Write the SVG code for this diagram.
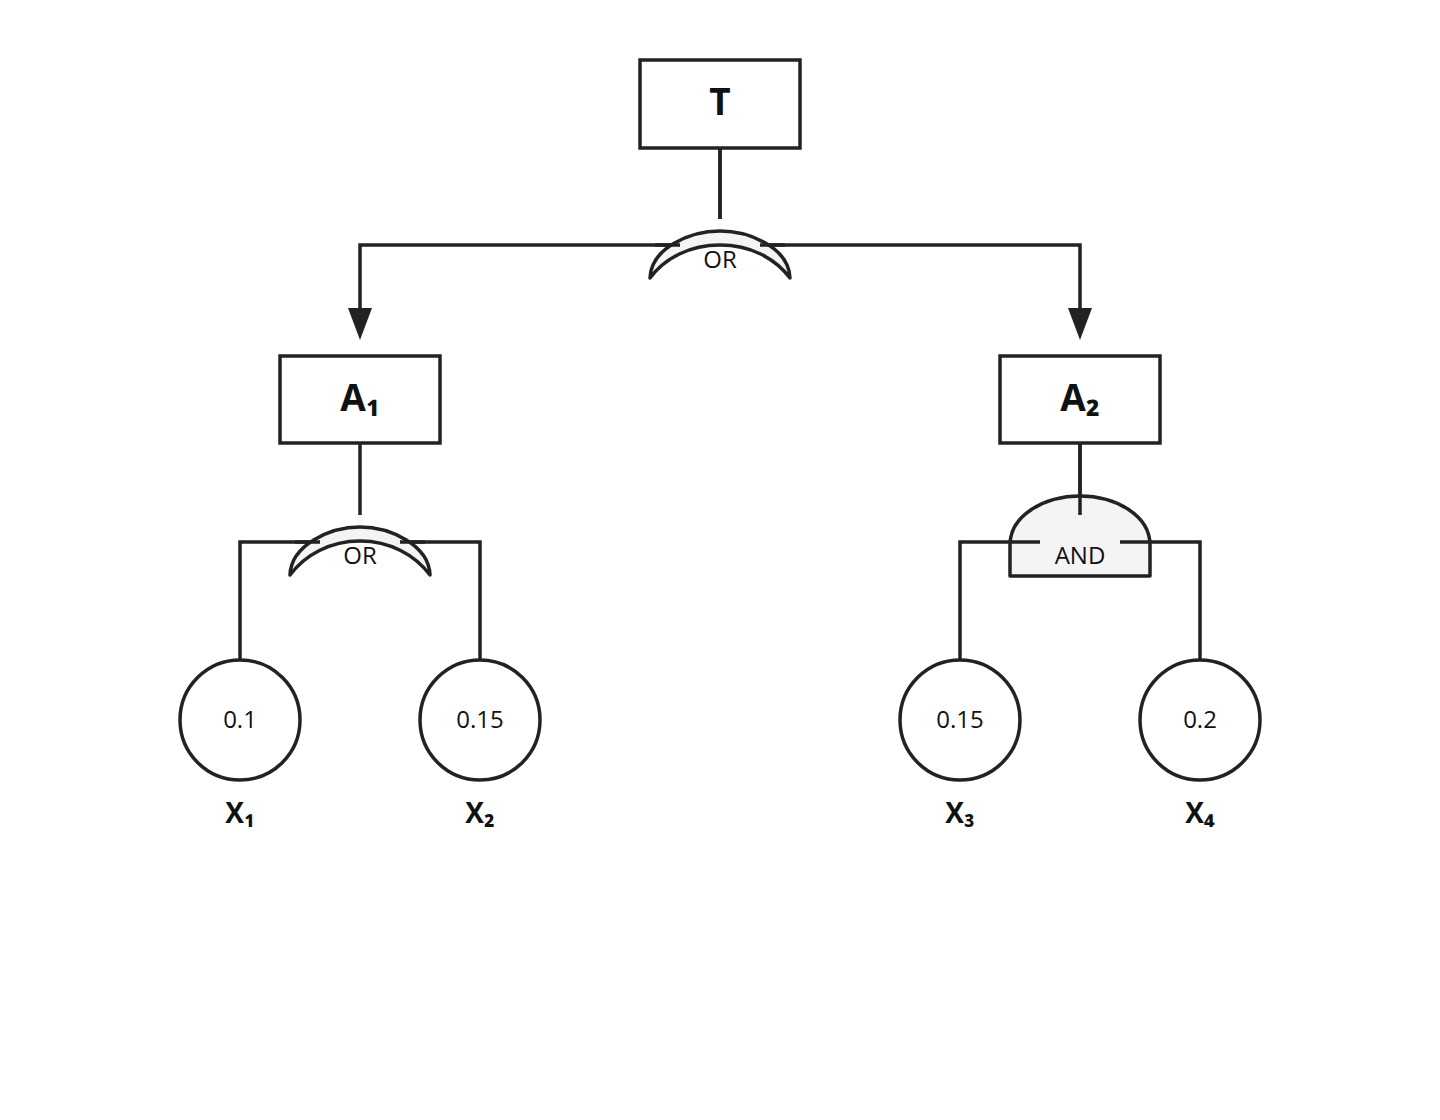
<svg xmlns="http://www.w3.org/2000/svg" width="1440" height="1120" viewBox="0 0 1440 1120">
<defs>
<style>
.box{fill:#fff;stroke:#222;stroke-width:3.5}
.ln{fill:none;stroke:#222;stroke-width:3.5}
.gate{fill:#f4f4f4;stroke:#222;stroke-width:3.5;stroke-linejoin:round}
.ev{fill:#fff;stroke:#222;stroke-width:3.5}
.big{font-family:"Open Sans","Liberation Sans",sans-serif;font-weight:bold;font-size:37px;fill:#111;text-anchor:middle}
.lbl{font-family:"Open Sans","Liberation Sans",sans-serif;font-weight:bold;font-size:28px;fill:#111;text-anchor:middle}
.g{font-family:"Open Sans","Liberation Sans",sans-serif;font-size:24px;fill:#111;text-anchor:middle}
.num{font-family:"Open Sans","Liberation Sans",sans-serif;font-size:24px;fill:#111;text-anchor:middle}
</style>
</defs>
<rect width="1440" height="1120" fill="#fff"/>
<g id="connectors">
<line class="ln" x1="720" y1="148" x2="720" y2="219"/>
<polyline class="ln" points="680,245 360,245 360,308"/>
<path d="M348,308 L372,308 L360,340 Z" fill="#222"/>
<polyline class="ln" points="760,245 1080,245 1080,308"/>
<path d="M1068,308 L1092,308 L1080,340 Z" fill="#222"/>
<line class="ln" x1="360" y1="443" x2="360" y2="515"/>
<polyline class="ln" points="320,542 240,542 240,660"/>
<polyline class="ln" points="400,542 480,542 480,660"/>
<line class="ln" x1="1080" y1="443" x2="1080" y2="515"/>
<polyline class="ln" points="1040,542 960,542 960,660"/>
<polyline class="ln" points="1120,542 1200,542 1200,660"/>
</g>
<g id="T">
<rect class="box" x="640" y="60" width="160" height="88"/>
<text class="big" x="720" y="115">T</text>
</g>
<g id="gate-or-top">
<path class="gate" d="M650,278 C651,248 690,231 720,231 C750,231 789,248 790,278 C775,258 750,245 720,245 C690,245 665,258 650,278 Z"/>
<line class="ln" x1="720" y1="148" x2="720" y2="219"/>
<line class="ln" x1="655" y1="245" x2="680" y2="245"/>
<line class="ln" x1="760" y1="245" x2="785" y2="245"/>
<text class="g" x="720" y="268">OR</text>
</g>
<g id="A1">
<rect class="box" x="280" y="356" width="160" height="87"/>
<text class="big" x="360" y="411">A₁</text>
</g>
<g id="A2">
<rect class="box" x="1000" y="356" width="160" height="87"/>
<text class="big" x="1080" y="411">A₂</text>
</g>
<g id="gate-or-a1">
<path class="gate" d="M290,575 C291,545 330,527 360,527 C390,527 429,545 430,575 C415,555 390,541 360,541 C330,541 305,555 290,575 Z"/>
<line class="ln" x1="295" y1="542" x2="320" y2="542"/>
<line class="ln" x1="400" y1="542" x2="425" y2="542"/>
<text class="g" x="360" y="564">OR</text>
</g>
<g id="gate-and-a2">
<path class="gate" d="M1010,576 L1010,545 C1010,515 1045,496 1080,496 C1115,496 1150,515 1150,545 L1150,576 Z"/>
<line class="ln" x1="1080" y1="443" x2="1080" y2="515"/>
<line class="ln" x1="1010" y1="542" x2="1040" y2="542"/>
<line class="ln" x1="1120" y1="542" x2="1150" y2="542"/>
<text class="g" x="1080" y="564">AND</text>
</g>
<g id="X1">
<circle class="ev" cx="240" cy="720" r="60"/>
<text class="num" x="240" y="728">0.1</text>
<text class="lbl" x="240" y="823">X₁</text>
</g>
<g id="X2">
<circle class="ev" cx="480" cy="720" r="60"/>
<text class="num" x="480" y="728">0.15</text>
<text class="lbl" x="480" y="823">X₂</text>
</g>
<g id="X3">
<circle class="ev" cx="960" cy="720" r="60"/>
<text class="num" x="960" y="728">0.15</text>
<text class="lbl" x="960" y="823">X₃</text>
</g>
<g id="X4">
<circle class="ev" cx="1200" cy="720" r="60"/>
<text class="num" x="1200" y="728">0.2</text>
<text class="lbl" x="1200" y="823">X₄</text>
</g>
</svg>
